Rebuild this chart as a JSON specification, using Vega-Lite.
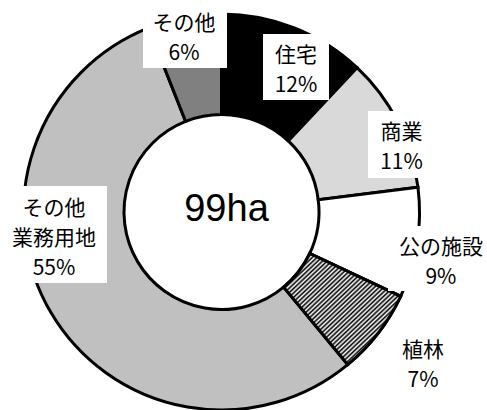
{
  "$schema": "https://vega.github.io/schema/vega-lite/v6.json",
  "width": 443,
  "height": 424,
  "autosize": {"type": "none"},
  "padding": {"left": 0, "top": 0, "right": 44, "bottom": 0},
  "background": "white",
  "config": {"view": {"stroke": null}},
  "data": {
    "values": [
      {"idx": 1, "cat": "住宅", "label": "住宅", "pct": 12},
      {"idx": 2, "cat": "商業", "label": "商業", "pct": 11},
      {"idx": 3, "cat": "公の施設", "label": "公の施設", "pct": 9},
      {"idx": 4, "cat": "植林", "label": "植林", "pct": 7},
      {"idx": 5, "cat": "その他業務用地", "label": "その他\n業務用地", "pct": 55},
      {"idx": 6, "cat": "その他", "label": "その他", "pct": 6}
    ]
  },
  "transform": [{"calculate": "datum.label + '\\n' + datum.pct + '%'", "as": "txt"}],
  "encoding": {
    "theta": {"field": "pct", "type": "quantitative", "stack": true},
    "order": {"field": "idx", "type": "quantitative"}
  },
  "layer": [
    {
      "mark": {"type": "arc", "outerRadius": 198, "innerRadius": 97.5, "stroke": "black", "strokeWidth": 3},
      "encoding": {
        "color": {
          "field": "cat", "type": "nominal", "legend": null,
          "scale": {
            "domain": ["住宅", "商業", "公の施設", "植林", "その他業務用地", "その他"],
            "range": ["#000000", "#d9d9d9", "#ffffff", "#888888", "#c0c0c0", "#808080"]
          }
        }
      }
    },
    {
      "mark": {
        "type": "arc", "outerRadius": 198, "innerRadius": 97.5, "stroke": "black", "strokeWidth": 3,
        "fill": {
          "gradient": "linear", "x1": 0, "y1": 0, "x2": 1, "y2": 1,
          "stops": [
            {"offset": 0, "color": "#000"}, {"offset": 0.01, "color": "#fff"}, {"offset": 0.02, "color": "#000"}, {"offset": 0.03, "color": "#fff"},
            {"offset": 0.04, "color": "#000"}, {"offset": 0.05, "color": "#fff"}, {"offset": 0.06, "color": "#000"}, {"offset": 0.07, "color": "#fff"},
            {"offset": 0.08, "color": "#000"}, {"offset": 0.09, "color": "#fff"}, {"offset": 0.10, "color": "#000"}, {"offset": 0.11, "color": "#fff"},
            {"offset": 0.12, "color": "#000"}, {"offset": 0.13, "color": "#fff"}, {"offset": 0.14, "color": "#000"}, {"offset": 0.15, "color": "#fff"},
            {"offset": 0.16, "color": "#000"}, {"offset": 0.17, "color": "#fff"}, {"offset": 0.18, "color": "#000"}, {"offset": 0.19, "color": "#fff"},
            {"offset": 0.20, "color": "#000"}, {"offset": 0.21, "color": "#fff"}, {"offset": 0.22, "color": "#000"}, {"offset": 0.23, "color": "#fff"},
            {"offset": 0.24, "color": "#000"}, {"offset": 0.25, "color": "#fff"}, {"offset": 0.26, "color": "#000"}, {"offset": 0.27, "color": "#fff"},
            {"offset": 0.28, "color": "#000"}, {"offset": 0.29, "color": "#fff"}, {"offset": 0.30, "color": "#000"}, {"offset": 0.31, "color": "#fff"},
            {"offset": 0.32, "color": "#000"}, {"offset": 0.33, "color": "#fff"}, {"offset": 0.34, "color": "#000"}, {"offset": 0.35, "color": "#fff"},
            {"offset": 0.36, "color": "#000"}, {"offset": 0.37, "color": "#fff"}, {"offset": 0.38, "color": "#000"}, {"offset": 0.39, "color": "#fff"},
            {"offset": 0.40, "color": "#000"}, {"offset": 0.41, "color": "#fff"}, {"offset": 0.42, "color": "#000"}, {"offset": 0.43, "color": "#fff"},
            {"offset": 0.44, "color": "#000"}, {"offset": 0.45, "color": "#fff"}, {"offset": 0.46, "color": "#000"}, {"offset": 0.47, "color": "#fff"},
            {"offset": 0.48, "color": "#000"}, {"offset": 0.49, "color": "#fff"}, {"offset": 0.50, "color": "#000"}, {"offset": 0.51, "color": "#fff"},
            {"offset": 0.52, "color": "#000"}, {"offset": 0.53, "color": "#fff"}, {"offset": 0.54, "color": "#000"}, {"offset": 0.55, "color": "#fff"},
            {"offset": 0.56, "color": "#000"}, {"offset": 0.57, "color": "#fff"}, {"offset": 0.58, "color": "#000"}, {"offset": 0.59, "color": "#fff"},
            {"offset": 0.60, "color": "#000"}, {"offset": 0.61, "color": "#fff"}, {"offset": 0.62, "color": "#000"}, {"offset": 0.63, "color": "#fff"},
            {"offset": 0.64, "color": "#000"}, {"offset": 0.65, "color": "#fff"}, {"offset": 0.66, "color": "#000"}, {"offset": 0.67, "color": "#fff"},
            {"offset": 0.68, "color": "#000"}, {"offset": 0.69, "color": "#fff"}, {"offset": 0.70, "color": "#000"}, {"offset": 0.71, "color": "#fff"},
            {"offset": 0.72, "color": "#000"}, {"offset": 0.73, "color": "#fff"}, {"offset": 0.74, "color": "#000"}, {"offset": 0.75, "color": "#fff"},
            {"offset": 0.76, "color": "#000"}, {"offset": 0.77, "color": "#fff"}, {"offset": 0.78, "color": "#000"}, {"offset": 0.79, "color": "#fff"},
            {"offset": 0.80, "color": "#000"}, {"offset": 0.81, "color": "#fff"}, {"offset": 0.82, "color": "#000"}, {"offset": 0.83, "color": "#fff"},
            {"offset": 0.84, "color": "#000"}, {"offset": 0.85, "color": "#fff"}, {"offset": 0.86, "color": "#000"}, {"offset": 0.87, "color": "#fff"},
            {"offset": 0.88, "color": "#000"}, {"offset": 0.89, "color": "#fff"}, {"offset": 0.90, "color": "#000"}, {"offset": 0.91, "color": "#fff"},
            {"offset": 0.92, "color": "#000"}, {"offset": 0.93, "color": "#fff"}, {"offset": 0.94, "color": "#000"}, {"offset": 0.95, "color": "#fff"},
            {"offset": 0.96, "color": "#000"}, {"offset": 0.97, "color": "#fff"}, {"offset": 0.98, "color": "#000"}, {"offset": 0.99, "color": "#fff"},
            {"offset": 1, "color": "#000"}
          ]
        }
      },
      "encoding": {
        "opacity": {"condition": {"test": "datum.cat === '植林'", "value": 1}, "value": 0}
      }
    },
    {
      "mark": {"type": "text", "radius": 173, "dx": 10.8, "dy": 21.2, "font": "Noto Sans CJK JP", "fontSize": 66, "color": "white"},
      "encoding": {"text": {"condition": {"test": "datum.cat === '住宅'", "value": "█"}, "value": ""}}
    },
    {
      "mark": {"type": "text", "radius": 196.6, "dx": 4.8, "dy": 27.1, "font": "Noto Sans CJK JP", "fontSize": 67, "color": "white"},
      "encoding": {"text": {"condition": {"test": "datum.cat === '商業'", "value": "█"}, "value": ""}}
    },
    {
      "mark": {"type": "text", "radius": 222.4, "dx": -20.7, "dy": 16.4, "font": "Noto Sans CJK JP", "fontSize": 65, "color": "white"},
      "encoding": {"text": {"condition": {"test": "datum.cat === '公の施設'", "value": "█"}, "value": ""}}
    },
    {
      "mark": {"type": "text", "radius": 167.5, "dx": -18.8, "dy": -55, "font": "Noto Sans CJK JP", "fontSize": 97, "color": "white"},
      "encoding": {"text": {"condition": {"test": "datum.cat === 'その他業務用地'", "value": "█"}, "value": ""}}
    },
    {
      "mark": {"type": "text", "radius": 191.7, "dx": -0.6, "dy": 9.7, "font": "Noto Sans CJK JP", "fontSize": 84, "color": "white"},
      "encoding": {"text": {"condition": {"test": "datum.cat === 'その他'", "value": "█"}, "value": ""}}
    },
    {
      "mark": {"type": "text", "radius": 173, "dx": 10.8, "dy": 5, "font": "Noto Sans CJK JP", "fontSize": 21, "lineHeight": 30, "lineBreak": "\n", "color": "black"},
      "encoding": {"text": {"condition": {"test": "datum.cat === '住宅'", "field": "txt"}, "value": ""}}
    },
    {
      "mark": {"type": "text", "radius": 196.6, "dx": 4.8, "dy": 10.4, "font": "Noto Sans CJK JP", "fontSize": 21, "lineHeight": 30, "lineBreak": "\n", "color": "black"},
      "encoding": {"text": {"condition": {"test": "datum.cat === '商業'", "field": "txt"}, "value": ""}}
    },
    {
      "mark": {"type": "text", "radius": 222.4, "dx": -0.2, "dy": 1.3, "font": "Noto Sans CJK JP", "fontSize": 21, "lineHeight": 30, "lineBreak": "\n", "color": "black"},
      "encoding": {"text": {"condition": {"test": "datum.cat === '公の施設'", "field": "txt"}, "value": ""}}
    },
    {
      "mark": {"type": "text", "radius": 244.8, "dx": 8.1, "dy": -11, "font": "Noto Sans CJK JP", "fontSize": 21, "lineHeight": 30, "lineBreak": "\n", "color": "black"},
      "encoding": {"text": {"condition": {"test": "datum.cat === '植林'", "field": "txt"}, "value": ""}}
    },
    {
      "mark": {"type": "text", "radius": 167.5, "dx": -23.3, "dy": -88.7, "font": "Noto Sans CJK JP", "fontSize": 21, "lineHeight": 30, "lineBreak": "\n", "color": "black"},
      "encoding": {"text": {"condition": {"test": "datum.cat === 'その他業務用地'", "field": "txt"}, "value": ""}}
    },
    {
      "mark": {"type": "text", "radius": 191.7, "dx": -1.6, "dy": 0.4, "font": "Noto Sans CJK JP", "fontSize": 21, "lineHeight": 30, "lineBreak": "\n", "color": "black"},
      "encoding": {"text": {"condition": {"test": "datum.cat === 'その他'", "field": "txt"}, "value": ""}}
    },
    {
      "mark": {"type": "text", "radius": 0, "dx": 5, "dy": -2, "font": "Liberation Sans", "fontSize": 38, "color": "black"},
      "encoding": {"text": {"condition": {"test": "datum.idx === 1", "value": "99ha"}, "value": ""}}
    }
  ]
}
